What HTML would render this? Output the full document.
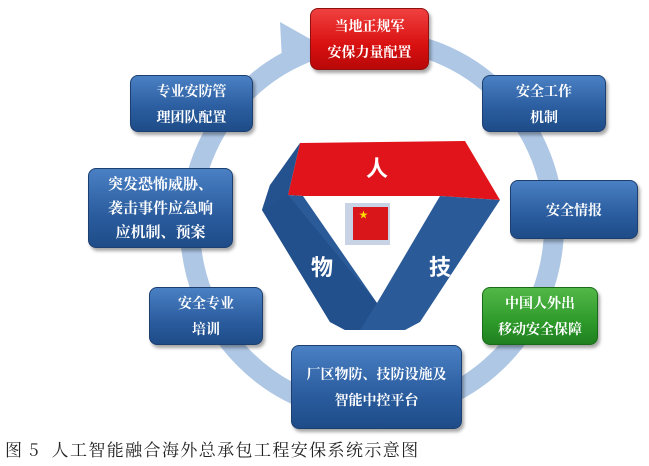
<!DOCTYPE html>
<html><head><meta charset="utf-8"><style>
body{margin:0;width:649px;height:466px;background:#fff;position:relative;overflow:hidden;font-family:"Liberation Sans","Noto Sans CJK SC",sans-serif}
.b{position:absolute;border-radius:8px;color:#fff;font-weight:bold;font-size:14px;line-height:26px;text-align:center;display:flex;align-items:center;justify-content:center;background:linear-gradient(#4a80c4,#2a5c9e 60%,#1e4c88);box-shadow:2px 3px 3px rgba(0,0,0,.35);border:1px solid #1c3f70;font-family:"Noto Serif CJK SC","WenQuanYi Zen Hei",serif}
.r{background:linear-gradient(#f04040,#d91010 60%,#b80808);border-color:#901010}
.g{background:linear-gradient(#52b848,#2e9a2a 60%,#1f8020);border-color:#1a6a1a}
.cap{position:absolute;left:5px;top:436px;font-size:17px;letter-spacing:1.4px;font-family:"Noto Serif CJK SC","Liberation Serif",serif;color:#222;white-space:pre}
</style></head><body>
<svg width="649" height="466" style="position:absolute;left:0;top:0">
<ellipse cx="372" cy="226" rx="182" ry="186" fill="none" stroke="#aec7e5" stroke-width="20"/>
<polygon points="280,22 312,40 282,60" fill="#aec7e5"/>
<polygon points="300,143 465,141 500,200 440,196 303,196 288,195" fill="#e0141a"/>
<polygon points="288,195 303,196 377,303 440,196 500,200 420,322 405,330 345,330 330,322 262,210 270,185" fill="#2b5a98"/>
<polygon points="262,210 288,195 377,303 360,330 345,330 330,322" fill="#22508c"/>
<polygon points="270,185 300,143 288,195 262,210" fill="#24528e"/>
<rect x="345" y="203" width="45" height="42" fill="#c8d4e6"/>
<rect x="353" y="207" width="35" height="33" fill="#d9161a"/>
<text x="359" y="218" font-size="9" fill="#ffde00">★</text>
<text x="377" y="176" font-size="22" font-weight="bold" fill="#fff" text-anchor="middle" font-family="Noto Sans CJK SC,sans-serif">人</text>
<text x="322" y="275" font-size="22" font-weight="bold" fill="#fff" text-anchor="middle" font-family="Noto Sans CJK SC,sans-serif">物</text>
<text x="440" y="275" font-size="22" font-weight="bold" fill="#fff" text-anchor="middle" font-family="Noto Sans CJK SC,sans-serif">技</text>
</svg>
<div class="b r" style="left:310px;top:8px;width:117px;height:60px">当地正规军<br>安保力量配置</div>
<div class="b" style="left:482px;top:75px;width:122px;height:55px">安全工作<br>机制</div>
<div class="b" style="left:510px;top:180px;width:126px;height:57px">安全情报</div>
<div class="b g" style="left:482px;top:287px;width:114px;height:56px">中国人外出<br>移动安全保障</div>
<div class="b" style="left:291px;top:345px;width:169px;height:82px">厂区物防、技防设施及<br>智能中控平台</div>
<div class="b" style="left:149px;top:287px;width:112px;height:56px">安全专业<br>培训</div>
<div class="b" style="left:88px;top:168px;width:143px;height:78px;font-size:15px;line-height:24px">突发恐怖威胁、<br>袭击事件应急响<br>应机制、预案</div>
<div class="b" style="left:130px;top:75px;width:121px;height:55px">专业安防管<br>理团队配置</div>
<div class="cap">图 5  人工智能融合海外总承包工程安保系统示意图</div>
</body></html>
